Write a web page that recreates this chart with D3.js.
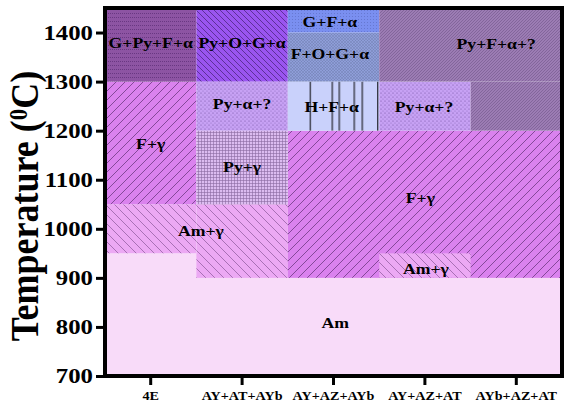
<!DOCTYPE html>
<html>
<head>
<meta charset="utf-8">
<script src="https://cdn.jsdelivr.net/npm/d3@7"></script>
<style>
  body { margin: 0; background: #fff; }
  svg text { font-family: "Liberation Serif", "Times New Roman", serif; font-weight: bold; fill: #000; }
</style>
</head>
<body>
<script>
const categories = ['4E', 'AY+AT+AYb', 'AY+AZ+AYb', 'AY+AZ+AT', 'AYb+AZ+AT']
const tempTicks = [700, 800, 900, 1000, 1100, 1200, 1300, 1400]

// phase fields: column span [from, to) and temperature span [low, high]
const regionPhase = ['Am', 'Am+γ', 'Am+γ', 'F+γ', 'F+γ', 'Am+γ', 'Py+γ', 'Py+α+?', 'Py+α+?', 'H+F+α', 'G+Py+F+α', 'Py+O+G+α', 'F+O+G+α', 'G+F+α', 'Py+F+α+?', 'Py+F+α+?']
const regionFrom = [0, 0, 1, 0, 2, 3, 1, 1, 3, 2, 0, 1, 2, 2, 3, 4]
const regionTo = [5, 1, 2, 1, 5, 4, 2, 2, 4, 3, 1, 2, 3, 3, 5, 5]
const regionLow = [700, 950, 900, 1050, 900, 900, 1050, 1200, 1200, 1200, 1300, 1300, 1300, 1400, 1300, 1200]
const regionHigh = [950, 1050, 1050, 1300, 1200, 950, 1200, 1300, 1300, 1300, 1450, 1450, 1400, 1450, 1450, 1300]

// labels: text, column position, temperature
const labelText = ['G+Py+F+α', 'Py+O+G+α', 'G+F+α', 'F+O+G+α', 'Py+F+α+?', 'Py+α+?', 'H+F+α', 'Py+α+?', 'F+γ', 'Py+γ', 'F+γ', 'Am+γ', 'Am+γ', 'Am']
const labelCol = [0.5, 1.5, 2.46, 2.46, 4.28, 1.5, 2.48, 3.49, 0.5, 1.5, 3.45, 1.05, 3.51, 2.52]
const labelTemp = [1380, 1380, 1422, 1356, 1378, 1254, 1248, 1248, 1173, 1126, 1063, 996, 919, 808]

const W = 570, H = 406
const mLeft = 105, mRight = 562, mTop = 8, mBottom = 376
const stretch = 1.18 // the original figure is a bit wider than tall in its glyphs

const svg = d3.select('body').append('svg')
  .attr('width', W)
  .attr('height', H)

const x = d3.scaleBand().domain(categories).range([mLeft, mRight]).padding(0)
const col = c => mLeft + c * x.bandwidth()
const y = d3.scaleLinear().domain([700, 1450]).range([mBottom, mTop])

const defs = svg.append('defs')

const pat = (id, w, h, bg) => {
  const p = defs.append('pattern')
    .attr('id', id)
    .attr('patternUnits', 'userSpaceOnUse')
    .attr('width', w)
    .attr('height', h)
  p.append('rect').attr('width', w).attr('height', h).attr('fill', bg)
  return p
}

let p = pat('am', 10, 10, '#f8dbf9')

p = pat('amg', 9, 9, '#eca9f4')
p.append('path').attr('d', 'M0,0L9,9M-1,8L1,10M8,-1L10,1').attr('stroke', '#7a4a8a').attr('stroke-width', 0.6)

p = pat('fg', 9, 9, '#da82ee')
p.append('path').attr('d', 'M0,9L9,0M-1,1L1,-1M8,10L10,8').attr('stroke', '#4a2060').attr('stroke-width', 0.6)

p = pat('pyg', 3, 3, '#dcbcf0')
p.append('path').attr('d', 'M0,0.5H3M0.5,0V3').attr('stroke', '#8a6aa0').attr('stroke-width', 0.6)

p = pat('pya', 4, 4, '#c7a1f4')
p.append('circle').attr('cx', 1).attr('cy', 1).attr('r', 0.6).attr('fill', '#7050a0')
p.append('circle').attr('cx', 3).attr('cy', 3).attr('r', 0.6).attr('fill', '#9070c0')

// vertical lines of the H+F+α field, one tile per column
p = defs.append('pattern').attr('id', 'hfa').attr('patternUnits', 'userSpaceOnUse')
  .attr('x', col(2)).attr('width', x.bandwidth()).attr('height', 10)
p.append('rect').attr('width', x.bandwidth()).attr('height', 10).attr('fill', '#c9d1fb')
p.append('path').attr('d', 'M22.5,0V10M44.5,0V10M51.5,0V10M66.5,0V10M74.5,0V10M90,0V10')
  .attr('stroke', '#000').attr('stroke-width', 1)

p = pat('gpfa', 4, 4, '#8d54a3')
p.append('path').attr('d', 'M0,1.5H4').attr('stroke', '#60307a').attr('stroke-width', 0.8).attr('stroke-dasharray', '1,1')

p = pat('pyoga', 6, 6, '#9a55f0')
p.append('path').attr('d', 'M0,0L6,6M-1,5L1,7M5,-1L7,1').attr('stroke', '#2a1050').attr('stroke-width', 0.55)

p = pat('foga', 3, 3, '#8e9dd8')
p.append('path').attr('d', 'M0,0L3,3M0,3L3,0').attr('stroke', '#6a78a8').attr('stroke-width', 0.4)

p = pat('gfa', 3, 3, '#7a8ff0')
p.append('circle').attr('cx', 1.5).attr('cy', 1.5).attr('r', 0.45).attr('fill', '#5060b0')

p = pat('pyfa', 3, 3, '#9c7cb4')
p.append('path').attr('d', 'M0,3L3,0M-1,1L1,-1M2,4L4,2').attr('stroke', '#6a5082').attr('stroke-width', 0.5)

const phaseFill = {
  'Am': 'url(#am)', 'Am+γ': 'url(#amg)', 'F+γ': 'url(#fg)', 'Py+γ': 'url(#pyg)',
  'Py+α+?': 'url(#pya)', 'H+F+α': 'url(#hfa)', 'G+Py+F+α': 'url(#gpfa)',
  'Py+O+G+α': 'url(#pyoga)', 'F+O+G+α': 'url(#foga)', 'G+F+α': 'url(#gfa)', 'Py+F+α+?': 'url(#pyfa)'
}

const regions = regionPhase.map((ph, i) => ({
  phase: ph, from: regionFrom[i], to: regionTo[i], low: regionLow[i], high: regionHigh[i]
}))

svg.append('g').selectAll('rect')
  .data(regions)
  .enter().append('rect')
    .attr('x', d => col(d.from))
    .attr('width', d => col(d.to) - col(d.from))
    .attr('y', d => y(d.high))
    .attr('height', d => y(d.low) - y(d.high))
    .attr('fill', d => phaseFill[d.phase])

const labels = labelText.map((t, i) => ({ text: t, c: labelCol[i], t: labelTemp[i] }))

svg.append('g').selectAll('text')
  .data(labels)
  .enter().append('text')
    .attr('transform', d => 'translate(' + col(d.c) + ',' + y(d.t) + ') scale(' + stretch + ',1)')
    .attr('dy', '0.35em')
    .attr('text-anchor', 'middle')
    .style('font-size', '15px')
    .text(d => d.text)

// frame
svg.append('rect')
  .attr('x', mLeft).attr('y', mTop)
  .attr('width', mRight - mLeft).attr('height', mBottom - mTop)
  .attr('fill', 'none').attr('stroke', '#000').attr('stroke-width', 4)

const yAxis = svg.append('g')
  .attr('transform', 'translate(' + (mLeft - 2) + ',0)')
  .call(d3.axisLeft(y).tickValues(tempTicks).tickSize(7).tickPadding(0).tickFormat(d3.format('d')))
yAxis.select('.domain').remove()
yAxis.selectAll('line').attr('stroke-width', 3)
yAxis.selectAll('text')
  .attr('x', -10 / stretch)
  .attr('transform', 'scale(' + stretch + ',1)')
  .style('font-size', '21px')

const xAxis = svg.append('g')
  .attr('transform', 'translate(0,' + (mBottom + 2) + ')')
  .call(d3.axisBottom(x).tickSize(7).tickPadding(6))
xAxis.select('.domain').remove()
xAxis.selectAll('line').attr('stroke-width', 3)
xAxis.selectAll('text')
  .attr('transform', 'scale(' + stretch + ',1)')
  .style('font-size', '12px')

const title = svg.append('text')
  .attr('transform', 'translate(38,' + ((mTop + mBottom) / 2 + 14) + ') scale(1.12,1) rotate(-90)')
  .attr('text-anchor', 'middle')
  .style('font-size', '36px')
title.append('tspan').text('Temperature (')
title.append('tspan').attr('dy', -10).style('font-size', '23px').text('0')
title.append('tspan').attr('dy', 10).text('C)')
</script>
</body>
</html>
